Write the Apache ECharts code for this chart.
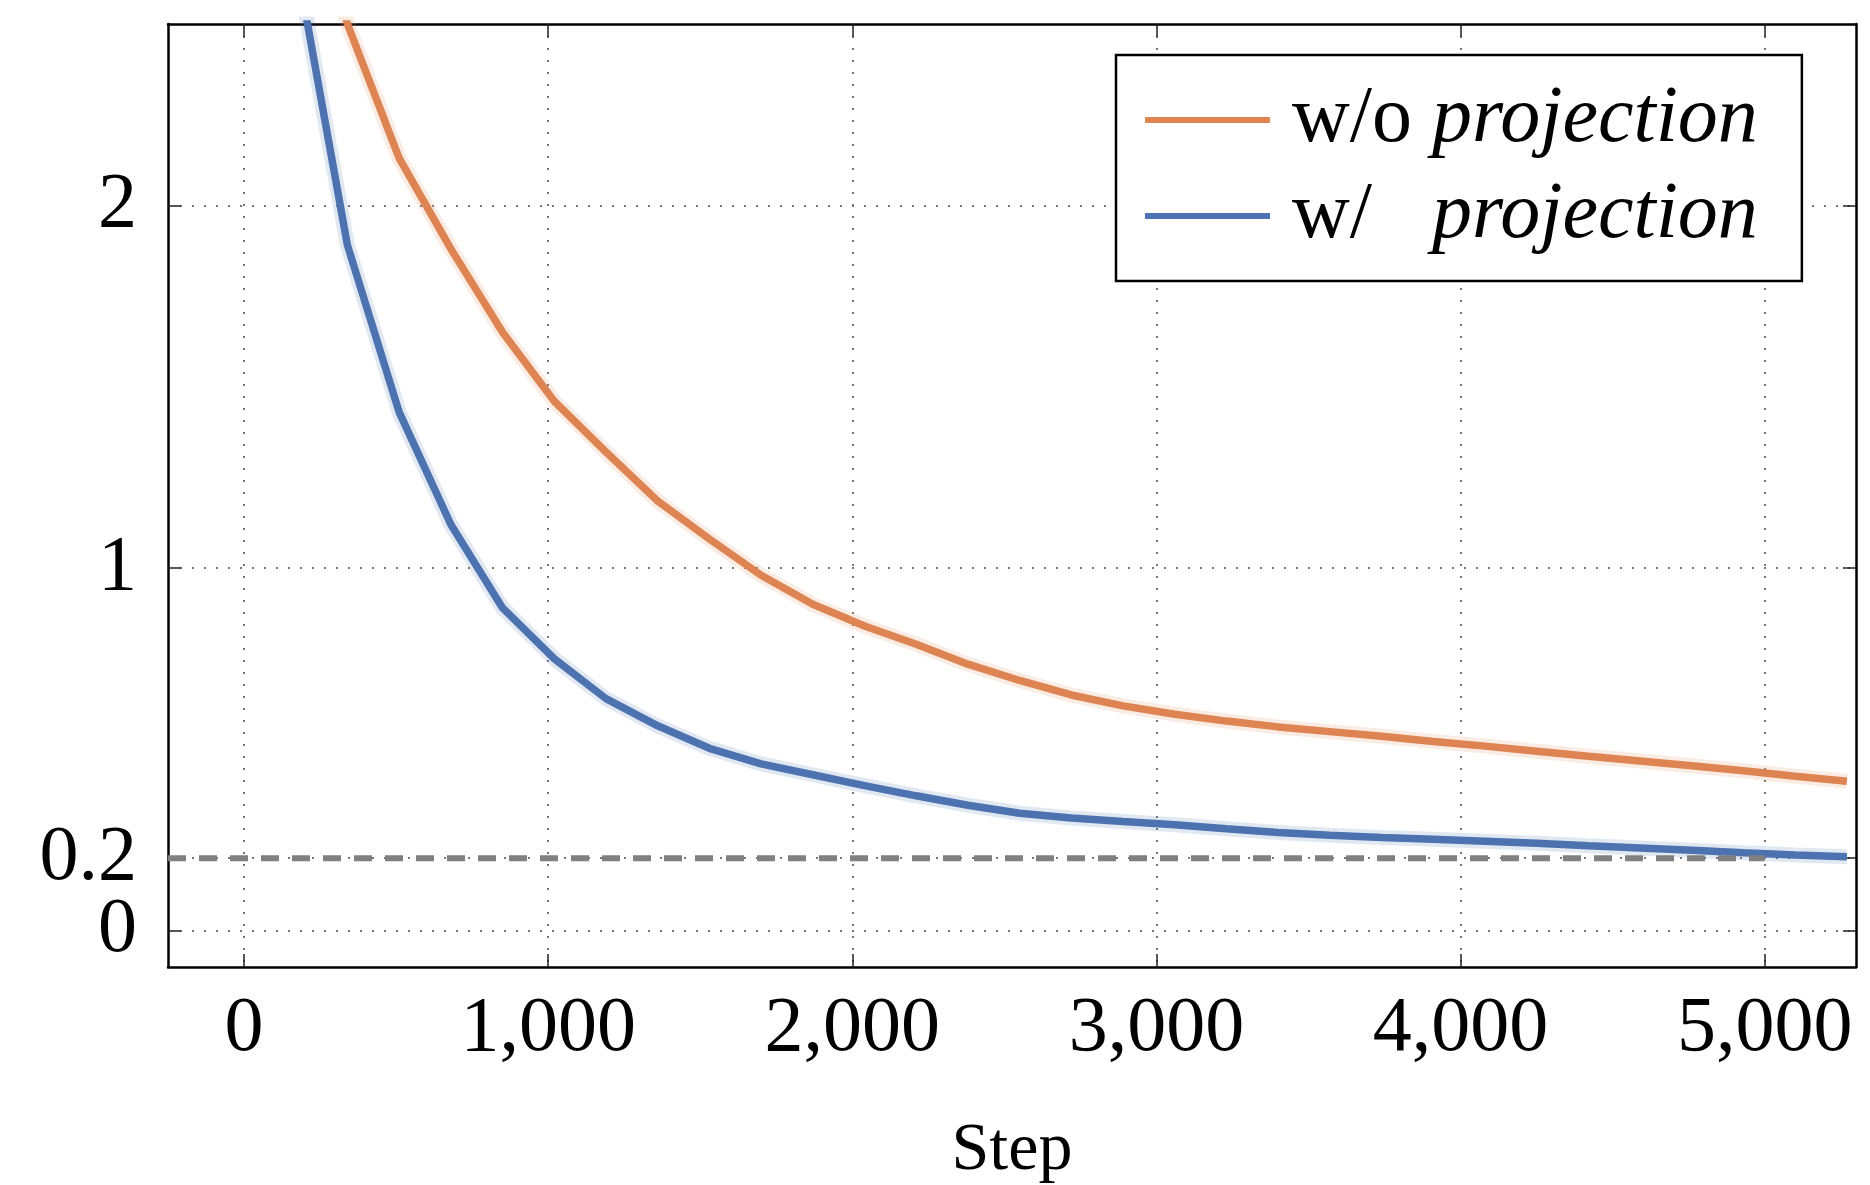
<!DOCTYPE html>
<html>
<head>
<meta charset="utf-8">
<script src="https://cdn.jsdelivr.net/npm/echarts@6/dist/echarts.min.js"></script>
<style>
  html, body { margin: 0; padding: 0; background: #fff; }
  #chart { width: 1870px; height: 1185px; }
</style>
</head>
<body>
<div id="chart"></div>
<script>
// training steps sampled along the x axis
const steps = [170, 340, 510, 680, 850, 1020, 1190, 1360, 1530, 1700, 1870, 2040, 2210, 2380, 2550, 2720,
  2890, 3060, 3230, 3400, 3570, 3740, 3910, 4080, 4250, 4420, 4590, 4760, 4930, 5100, 5270]
// w/o projection (orange)
const lossNoProj = [3.05, 2.50, 2.13, 1.88, 1.65, 1.46, 1.32, 1.185, 1.08, 0.98, 0.90, 0.84, 0.79, 0.735, 0.69, 0.65,
  0.62, 0.597, 0.578, 0.562, 0.549, 0.536, 0.522, 0.509, 0.495, 0.481, 0.468, 0.455, 0.441, 0.426, 0.412]
// w/ projection (blue)
const lossProj = [2.68, 1.89, 1.43, 1.12, 0.89, 0.75, 0.64, 0.565, 0.503, 0.46, 0.43, 0.40, 0.372, 0.346, 0.324, 0.311,
  0.301, 0.292, 0.281, 0.271, 0.263, 0.257, 0.252, 0.247, 0.241, 0.234, 0.228, 0.222, 0.215, 0.209, 0.204]
// dashed reference level
const refX = [-250, 5000]
const refY = 0.2

const xTicks = [0, 1000, 2000, 3000, 4000, 5000]
const yTicks = [0, 0.2, 1, 2]

const orange = "#DD8452"
const blue = "#4C72B0"
const font = "Liberation Serif"

const pair = (xs, ys) => xs.map((x, i) => [x, ys[i]])

let myChart = echarts.init(document.getElementById("chart"))

const gridDots = { show: true, lineStyle: { color: "#777", width: 2, type: [2, 10] } }
const tickIn = { inside: true, length: 13, lineStyle: { color: "#222", width: 1.5 } }
const blackLine = { show: true, onZero: false, lineStyle: { color: "#000", width: 2.5 } }
const yLabel = { margin: 31, fontFamily: font, fontSize: 78, hideOverlap: false, color: "#000" }

let option = {
  backgroundColor: "#fff",
  animation: false,
  grid: { left: 168, right: 14, top: 24, bottom: 218, containLabel: false, outerBoundsMode: "none" },
  legend: {
    left: 1116,
    top: 55,
    orient: "vertical",
    data: ["w/o", "w/"],
    icon: "rect",
    itemWidth: 125,
    itemHeight: 6,
    itemGap: 16,
    padding: [25, 44, 25, 29],
    borderColor: "#000",
    borderWidth: 2.5,
    backgroundColor: "#fff",
    formatter: (name) => "{a|" + name + "}{b|projection}",
    textStyle: {
      rich: {
        a: { fontFamily: font, fontSize: 80, color: "#000", width: 140, padding: [0, 0, 0, 17], lineHeight: 82 },
        b: { fontFamily: font, fontSize: 80, fontStyle: "italic", color: "#000", lineHeight: 82 },
      },
    },
  },
  xAxis: [
    {
      type: "value",
      min: -250,
      max: 5300,
      name: "Step",
      nameLocation: "middle",
      nameGap: 150,
      nameTextStyle: { fontFamily: font, fontSize: 68, color: "#000" },
      axisLine: blackLine,
      axisTick: Object.assign({ customValues: xTicks }, tickIn),
      splitLine: gridDots,
      axisLabel: {
        customValues: xTicks,
        margin: 24,
        fontFamily: font,
        fontSize: 78,
        color: "#000",
        hideOverlap: false,
        formatter: (v) => v.toLocaleString("en-US"),
      },
    },
    {
      type: "value",
      position: "top",
      min: -250,
      max: 5300,
      axisLine: blackLine,
      axisTick: Object.assign({ customValues: xTicks }, tickIn),
      axisLabel: { show: false },
      splitLine: { show: false },
    },
  ],
  yAxis: [
    {
      type: "value",
      min: -0.1,
      max: 2.5,
      axisLine: blackLine,
      axisTick: Object.assign({ customValues: yTicks }, tickIn),
      splitLine: gridDots,
      // the 0 label sits on its own axis below, so it is not dropped next to 0.2
      axisLabel: Object.assign({ customValues: yTicks.filter((v) => v !== 0) }, yLabel),
    },
    {
      type: "value",
      position: "right",
      min: -0.1,
      max: 2.5,
      axisLine: blackLine,
      axisTick: Object.assign({ customValues: yTicks }, tickIn),
      axisLabel: { show: false },
      splitLine: { show: false },
    },
    {
      type: "value",
      position: "left",
      min: -0.1,
      max: 2.5,
      axisLine: { show: false },
      axisTick: { show: false },
      splitLine: { show: false },
      axisLabel: Object.assign({ customValues: yTicks.filter((v) => v === 0) }, yLabel),
    },
  ],
  series: [
    {
      name: "w/o band",
      type: "line",
      data: pair(steps, lossNoProj),
      showSymbol: false,
      silent: true,
      lineStyle: { color: orange, width: 15, opacity: 0.16 },
      z: 1,
    },
    {
      name: "w/ band",
      type: "line",
      data: pair(steps, lossProj),
      showSymbol: false,
      silent: true,
      lineStyle: { color: blue, width: 15, opacity: 0.16 },
      z: 1,
    },
    {
      name: "w/o",
      type: "line",
      data: pair(steps, lossNoProj),
      showSymbol: false,
      itemStyle: { color: orange },
      lineStyle: { color: orange, width: 7.5 },
      z: 3,
    },
    {
      name: "w/",
      type: "line",
      data: pair(steps, lossProj),
      showSymbol: false,
      itemStyle: { color: blue },
      lineStyle: { color: blue, width: 7.5 },
      z: 3,
    },
    {
      name: "ref",
      type: "line",
      data: refX.map((x) => [x, refY]),
      showSymbol: false,
      silent: true,
      lineStyle: { color: "#808080", width: 6, type: [18, 13] },
      z: 4,
    },
  ],
}
myChart.setOption(option)
</script>
</body>
</html>
